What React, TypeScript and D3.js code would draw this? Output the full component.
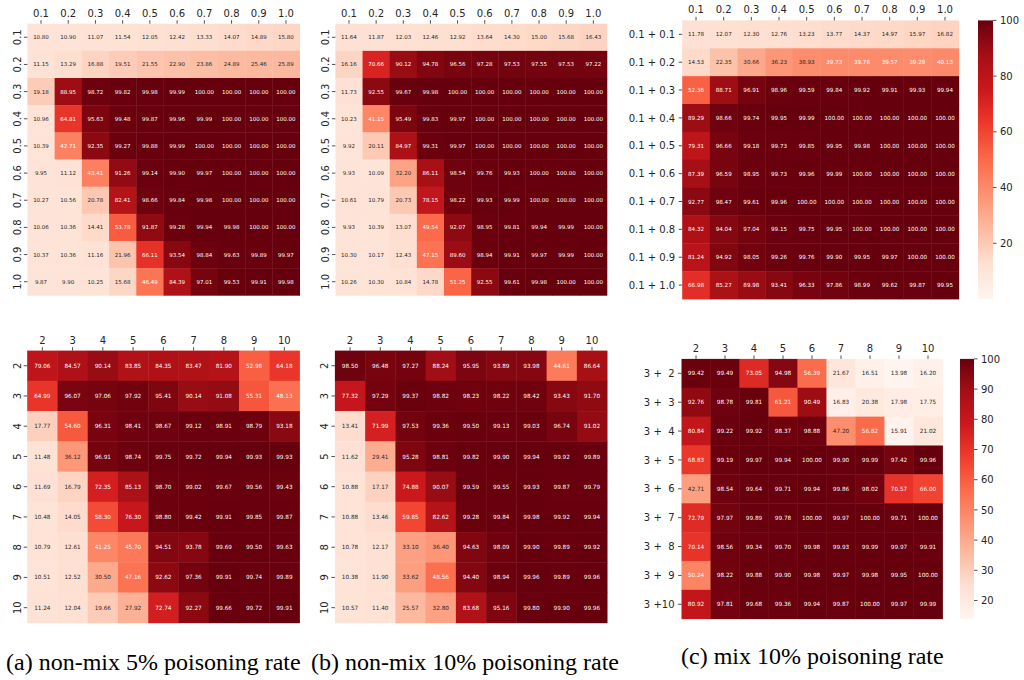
import React from "react";
import * as d3 from "d3";

// ---------- data ----------
const fracLabels = ["0.1", "0.2", "0.3", "0.4", "0.5", "0.6", "0.7", "0.8", "0.9", "1.0"];
const intLabels = ["2", "3", "4", "5", "6", "7", "8", "9", "10"];
const mixRowLabelsTop = ["0.1 + 0.1", "0.1 + 0.2", "0.1 + 0.3", "0.1 + 0.4", "0.1 + 0.5", "0.1 + 0.6", "0.1 + 0.7", "0.1 + 0.8", "0.1 + 0.9", "0.1 + 1.0"];
const mixRowLabelsBottom = ["3 +  2", "3 +  3", "3 +  4", "3 +  5", "3 +  6", "3 +  7", "3 +  8", "3 +  9", "3 +10"];

const aTop = [
  [10.80, 10.90, 11.07, 11.54, 12.05, 12.42, 13.33, 14.07, 14.89, 15.80],
  [11.15, 13.29, 16.88, 19.51, 21.55, 22.90, 23.86, 24.89, 25.46, 25.89],
  [19.18, 88.95, 98.72, 99.82, 99.98, 99.99, 100.00, 100.00, 100.00, 100.00],
  [10.96, 64.81, 95.63, 99.48, 99.87, 99.96, 99.99, 100.00, 100.00, 100.00],
  [10.39, 42.71, 92.35, 99.27, 99.88, 99.99, 100.00, 100.00, 100.00, 100.00],
  [9.95, 11.12, 43.41, 91.26, 99.14, 99.90, 99.97, 100.00, 100.00, 100.00],
  [10.27, 10.56, 20.78, 82.41, 98.66, 99.84, 99.98, 100.00, 100.00, 100.00],
  [10.06, 10.36, 14.41, 53.78, 91.87, 99.28, 99.94, 99.98, 100.00, 100.00],
  [10.37, 10.36, 11.16, 21.96, 66.11, 93.54, 98.84, 99.63, 99.89, 99.97],
  [9.87, 9.90, 10.25, 15.68, 46.49, 84.39, 97.01, 99.53, 99.91, 99.98],
];

const bTop = [
  [11.64, 11.87, 12.03, 12.46, 12.92, 13.64, 14.30, 15.00, 15.68, 16.43],
  [16.16, 70.66, 90.12, 94.78, 96.56, 97.28, 97.53, 97.55, 97.53, 97.22],
  [11.73, 92.55, 99.67, 99.98, 100.00, 100.00, 100.00, 100.00, 100.00, 100.00],
  [10.23, 41.15, 95.49, 99.83, 99.97, 100.00, 100.00, 100.00, 100.00, 100.00],
  [9.92, 20.11, 84.97, 99.31, 99.97, 100.00, 100.00, 100.00, 100.00, 100.00],
  [9.93, 10.09, 32.20, 86.11, 98.54, 99.76, 99.93, 100.00, 100.00, 100.00],
  [10.61, 10.79, 20.73, 78.15, 98.22, 99.93, 99.99, 100.00, 100.00, 100.00],
  [9.93, 10.39, 13.07, 49.54, 92.07, 98.95, 99.81, 99.94, 99.99, 100.00],
  [10.30, 10.17, 12.43, 47.15, 89.60, 98.94, 99.91, 99.97, 99.99, 100.00],
  [10.26, 10.30, 10.84, 14.78, 51.25, 92.55, 99.61, 99.98, 100.00, 100.00],
];

const cTop = [
  [11.78, 12.07, 12.30, 12.76, 13.23, 13.77, 14.37, 14.97, 15.97, 16.82],
  [14.53, 22.35, 30.66, 36.23, 38.93, 39.73, 39.76, 39.57, 39.29, 40.13],
  [52.36, 88.71, 96.91, 98.96, 99.59, 99.84, 99.92, 99.91, 99.93, 99.94],
  [89.29, 98.66, 99.74, 99.95, 99.99, 100.00, 100.00, 100.00, 100.00, 100.00],
  [79.31, 96.66, 99.18, 99.73, 99.85, 99.95, 99.98, 100.00, 100.00, 100.00],
  [87.39, 96.59, 98.95, 99.73, 99.96, 99.99, 100.00, 100.00, 100.00, 100.00],
  [92.77, 98.47, 99.61, 99.96, 100.00, 100.00, 100.00, 100.00, 100.00, 100.00],
  [84.32, 94.04, 97.04, 99.15, 99.75, 99.95, 100.00, 100.00, 100.00, 100.00],
  [81.24, 94.92, 98.05, 99.26, 99.76, 99.90, 99.95, 99.97, 100.00, 100.00],
  [66.98, 85.27, 89.98, 93.41, 96.33, 97.86, 98.99, 99.62, 99.87, 99.95],
];

const aBottom = [
  [79.06, 84.57, 90.14, 83.85, 84.35, 83.47, 81.90, 52.98, 64.18],
  [64.99, 96.07, 97.06, 97.92, 95.41, 90.14, 91.08, 55.31, 48.13],
  [17.77, 54.60, 96.31, 98.41, 98.67, 99.12, 98.91, 98.79, 93.18],
  [11.48, 36.12, 96.91, 98.74, 99.75, 99.72, 99.94, 99.93, 99.93],
  [11.69, 16.79, 72.35, 85.13, 98.70, 99.02, 99.67, 99.56, 99.43],
  [10.48, 14.05, 58.30, 76.30, 98.80, 99.42, 99.91, 99.85, 99.87],
  [10.79, 12.61, 41.25, 45.70, 94.51, 93.78, 99.69, 99.50, 99.63],
  [10.51, 12.52, 30.50, 47.16, 92.62, 97.36, 99.91, 99.74, 99.89],
  [11.24, 12.04, 19.66, 27.92, 72.74, 92.27, 99.66, 99.72, 99.91],
];

const bBottom = [
  [98.50, 96.48, 97.27, 88.24, 95.95, 93.89, 93.98, 44.61, 86.64],
  [77.32, 97.29, 99.37, 98.82, 98.23, 98.22, 98.42, 93.43, 91.70],
  [13.41, 71.99, 97.53, 99.36, 99.50, 99.13, 99.03, 96.74, 91.02],
  [11.62, 29.41, 95.28, 98.81, 99.82, 99.90, 99.94, 99.92, 99.89],
  [10.88, 17.17, 74.88, 90.07, 99.59, 99.55, 99.93, 99.87, 99.79],
  [10.88, 13.46, 59.85, 82.62, 99.28, 99.84, 99.98, 99.92, 99.94],
  [10.78, 12.17, 33.10, 36.40, 94.63, 98.09, 99.90, 99.89, 99.92],
  [10.38, 11.90, 33.62, 48.56, 94.40, 98.94, 99.96, 99.89, 99.96],
  [10.57, 11.40, 25.57, 32.80, 83.68, 95.16, 99.80, 99.90, 99.96],
];

const cBottom = [
  [99.42, 99.49, 73.05, 94.98, 56.39, 21.67, 16.51, 13.98, 16.20],
  [92.76, 98.78, 99.81, 61.21, 90.49, 16.83, 20.38, 17.98, 17.75],
  [80.84, 99.22, 99.92, 98.37, 98.88, 47.20, 56.82, 15.91, 21.02],
  [68.83, 99.19, 99.97, 99.94, 100.00, 99.90, 99.99, 97.42, 99.96],
  [42.71, 98.54, 99.64, 99.71, 99.94, 99.86, 98.02, 70.57, 66.00],
  [72.79, 97.97, 99.89, 99.78, 100.00, 99.97, 100.00, 99.71, 100.00],
  [70.14, 98.56, 99.34, 99.70, 99.98, 99.93, 99.99, 99.97, 99.91],
  [50.24, 98.22, 99.88, 99.90, 99.98, 99.97, 99.98, 99.95, 100.00],
  [80.92, 97.81, 99.68, 99.36, 99.94, 99.87, 100.00, 99.97, 99.99],
];

const cTopTicks = [20, 40, 60, 80, 100];
const cBottomTicks = [20, 30, 40, 50, 60, 70, 80, 90, 100];

const captions = ["(a) non-mix 5% poisoning rate", "(b) non-mix 10% poisoning rate", "(c) mix 10% poisoning rate"];

// ---------- colour ----------
const REDS = ["#fff5f0", "#fee0d2", "#fcbba1", "#fc9272", "#fb6a4a", "#ef3b2c", "#cb181d", "#a50f15", "#67000d"];
const redsScale = d3
  .scaleLinear<string>()
  .domain(REDS.map((_, i) => i / (REDS.length - 1)))
  .range(REDS)
  .interpolate(d3.interpolateRgb)
  .clamp(true);

function luminance(c: string) {
  const rgb = d3.rgb(c);
  const lin = [rgb.r, rgb.g, rgb.b].map((v) => {
    const s = v / 255;
    return s <= 0.03928 ? s / 12.92 : Math.pow((s + 0.055) / 1.055, 2.4);
  });
  return 0.2126 * lin[0] + 0.7152 * lin[1] + 0.0722 * lin[2];
}

const FONT = "'DejaVu Sans', Verdana, sans-serif";
const SERIF = "'Liberation Serif', 'Times New Roman', serif";
const INK = "#262626";

type HMProps = {
  data: number[][];
  rows: string[];
  cols: string[];
  x0: number;
  x1: number;
  y0: number;
  y1: number;
  vmin: number;
  vmax: number;
  annotSize: number;
  rotateRows: boolean;
  colorbar?: { x0: number; x1: number; ticks: number[]; id: string };
};

function Heatmap(p: HMProps) {
  const xs = d3.scaleBand<string>().domain(p.cols).range([p.x0, p.x1]);
  const ys = d3.scaleBand<string>().domain(p.rows).range([p.y0, p.y1]);
  const cval = (v: number) => redsScale((v - p.vmin) / (p.vmax - p.vmin));
  const tick = 3.5;
  const pad = 3.5;
  return (
    <g>
      {p.data.map((row, i) =>
        row.map((v, j) => {
          const fill = cval(v);
          const x = xs(p.cols[j])!;
          const y = ys(p.rows[i])!;
          return (
            <g key={`${i}-${j}`}>
              <rect x={x} y={y} width={xs.bandwidth() + 0.4} height={ys.bandwidth() + 0.4} fill={fill} />
              <text
                x={x + xs.bandwidth() / 2}
                y={y + ys.bandwidth() / 2}
                dy="0.36em"
                textAnchor="middle"
                fontSize={p.annotSize}
                fontFamily={FONT}
                fill={luminance(fill) > 0.408 ? INK : "#ffffff"}
              >
                {v.toFixed(2)}
              </text>
            </g>
          );
        })
      )}
      {p.cols.map((c) => {
        const cx = xs(c)! + xs.bandwidth() / 2;
        return (
          <g key={"c" + c}>
            <line x1={cx} x2={cx} y1={p.y0} y2={p.y0 - tick} stroke={INK} strokeWidth={0.8} />
            <text x={cx} y={p.y0 - tick - pad} textAnchor="middle" fontSize={10} fontFamily={FONT} fill={INK}>
              {c}
            </text>
          </g>
        );
      })}
      {p.rows.map((r) => {
        const cy = ys(r)! + ys.bandwidth() / 2;
        return (
          <g key={"r" + r}>
            <line x1={p.x0} x2={p.x0 - tick} y1={cy} y2={cy} stroke={INK} strokeWidth={0.8} />
            {p.rotateRows ? (
              <text
                transform={`translate(${p.x0 - tick - pad + 0.5},${cy}) rotate(-90)`}
                textAnchor="middle"
                fontSize={10}
                fontFamily={FONT}
                fill={INK}
              >
                {r}
              </text>
            ) : (
              <text
                x={p.x0 - tick - pad}
                y={cy}
                dy="0.36em"
                textAnchor="end"
                fontSize={10}
                fontFamily={FONT}
                fill={INK}
                style={{ whiteSpace: "pre" }}
              >
                {r}
              </text>
            )}
          </g>
        );
      })}
      {p.colorbar && <Colorbar {...p.colorbar} y0={p.y0} y1={p.y1} vmin={p.vmin} vmax={p.vmax} />}
    </g>
  );
}

function Colorbar(p: { x0: number; x1: number; y0: number; y1: number; vmin: number; vmax: number; ticks: number[]; id: string }) {
  const s = d3.scaleLinear().domain([p.vmin, p.vmax]).range([p.y1, p.y0]);
  return (
    <g>
      <defs>
        <linearGradient id={p.id} x1="0" y1="1" x2="0" y2="0">
          {REDS.map((c, i) => (
            <stop key={i} offset={i / (REDS.length - 1)} stopColor={c} />
          ))}
        </linearGradient>
      </defs>
      <rect x={p.x0} y={p.y0} width={p.x1 - p.x0} height={p.y1 - p.y0} fill={`url(#${p.id})`} />
      {p.ticks.map((t) => (
        <g key={t}>
          <line x1={p.x1} x2={p.x1 + 3.5} y1={s(t)} y2={s(t)} stroke={INK} strokeWidth={0.8} />
          <text x={p.x1 + 7} y={s(t)} dy="0.36em" fontSize={10} fontFamily={FONT} fill={INK}>
            {t}
          </text>
        </g>
      ))}
    </g>
  );
}

export default function App() {
  return (
    <div style={{ position: "absolute", left: 0, top: 0 }}>
      <svg width={1024} height={680} viewBox="0 0 1024 680" style={{ display: "block", background: "#fff" }}>
        <Heatmap data={aTop} rows={fracLabels} cols={fracLabels} x0={27.4} x1={299.6} y0={23.7} y1={295.3} vmin={0} vmax={100} annotSize={5.5} rotateRows />
        <Heatmap data={bTop} rows={fracLabels} cols={fracLabels} x0={335.4} x1={606.9} y0={23.7} y1={295.3} vmin={0} vmax={100} annotSize={5.5} rotateRows />
        <Heatmap
          data={cTop}
          rows={mixRowLabelsTop}
          cols={fracLabels}
          x0={682.2}
          x1={958.8}
          y0={20.4}
          y1={299}
          vmin={0}
          vmax={100}
          annotSize={5.6}
          rotateRows={false}
          colorbar={{ x0: 978, x1: 993, ticks: cTopTicks, id: "cbTop" }}
        />
        <Heatmap data={aBottom} rows={intLabels} cols={intLabels} x0={27.2} x1={299.5} y0={350.6} y1={622.8} vmin={0} vmax={100} annotSize={5.7} rotateRows />
        <Heatmap data={bBottom} rows={intLabels} cols={intLabels} x0={334.9} x1={607.1} y0={350.6} y1={622.8} vmin={0} vmax={100} annotSize={5.7} rotateRows />
        <Heatmap
          data={cBottom}
          rows={mixRowLabelsBottom}
          cols={intLabels}
          x0={681.5}
          x1={942.5}
          y0={358.9}
          y1={618.7}
          vmin={d3.min(cBottom.flat())!}
          vmax={d3.max(cBottom.flat())!}
          annotSize={5.7}
          rotateRows={false}
          colorbar={{ x0: 960, x1: 974, ticks: cBottomTicks, id: "cbBottom" }}
        />
        <text x={6} y={670} fontSize={24} fontFamily={SERIF} fill="#000">
          {captions[0]}
        </text>
        <text x={311} y={670} fontSize={24} fontFamily={SERIF} fill="#000">
          {captions[1]}
        </text>
        <text x={681} y={664} fontSize={24} fontFamily={SERIF} fill="#000">
          {captions[2]}
        </text>
      </svg>
    </div>
  );
}
